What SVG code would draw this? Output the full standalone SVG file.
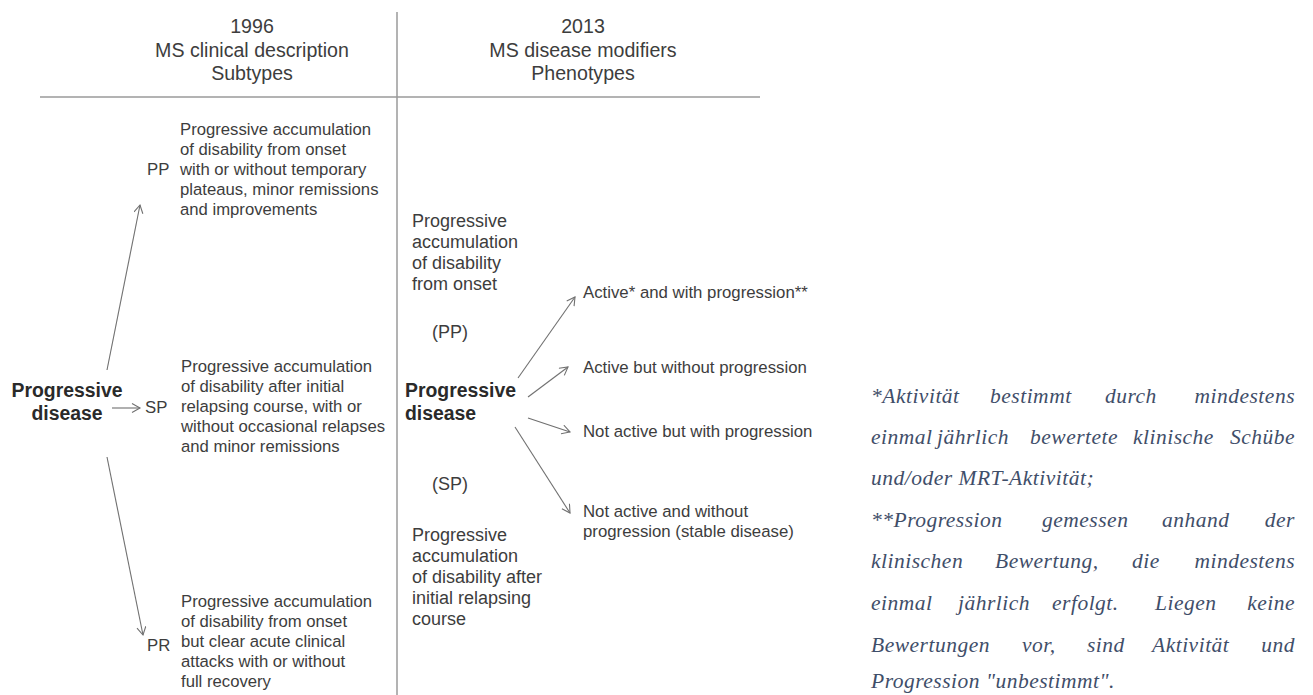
<svg xmlns="http://www.w3.org/2000/svg" width="1313" height="695" viewBox="0 0 1313 695">
<defs>
<style>
text{font-family:"Liberation Sans",Arial,Helvetica,sans-serif;fill:#3d3d3d}
.hd{font-size:19.6px;text-anchor:middle}
.bd{font-size:16.7px}
.rb{font-size:18px}
.lb{font-size:16.8px}
.ab{font-size:16.8px}
.bold{font-size:19.4px;font-weight:bold;fill:#2a2a2a}
.fn{font-family:"Liberation Serif","Times New Roman",serif;font-style:italic;font-size:21.5px;letter-spacing:0.5px;fill:#3f4e69}
.rule{stroke:#9a9a9a;stroke-width:1.5;fill:none}
.con{stroke:#707070;stroke-width:1.1;fill:none;marker-end:url(#ah)}
</style>
<marker id="ah" markerWidth="12" markerHeight="12" refX="9" refY="5" orient="auto" markerUnits="userSpaceOnUse">
<path d="M1,0.5 L9,5 L1,9.5" fill="none" stroke="#707070" stroke-width="1.1"/>
</marker>
</defs>
<rect width="1313" height="695" fill="#ffffff"/>

<g id="grid">
<line class="rule" x1="397" y1="12" x2="397" y2="695"/>
<line class="rule" x1="40" y1="97" x2="760" y2="97"/>
</g>

<g id="header-1996">
<text class="hd" x="252" y="33">1996</text>
<text class="hd" x="252" y="57">MS clinical description</text>
<text class="hd" x="252" y="80">Subtypes</text>
</g>
<g id="header-2013">
<text class="hd" x="583" y="33">2013</text>
<text class="hd" x="583" y="57">MS disease modifiers</text>
<text class="hd" x="583" y="80">Phenotypes</text>
</g>

<g id="left-progressive">
<text class="bold" x="67" y="397" text-anchor="middle">Progressive</text>
<text class="bold" x="67" y="420" text-anchor="middle">disease</text>
</g>

<g id="pp">
<text class="lb" x="147" y="175">PP</text>
<text class="bd" x="180" y="135">Progressive accumulation</text>
<text class="bd" x="180" y="155">of disability from onset</text>
<text class="bd" x="180" y="175">with or without temporary</text>
<text class="bd" x="180" y="195">plateaus, minor remissions</text>
<text class="bd" x="180" y="215">and improvements</text>
</g>

<g id="sp">
<text class="lb" x="145" y="413">SP</text>
<text class="bd" x="181" y="372">Progressive accumulation</text>
<text class="bd" x="181" y="392">of disability after initial</text>
<text class="bd" x="181" y="412">relapsing course, with or</text>
<text class="bd" x="181" y="432">without occasional relapses</text>
<text class="bd" x="181" y="452">and minor remissions</text>
</g>

<g id="pr">
<text class="lb" x="147" y="651">PR</text>
<text class="bd" x="181" y="607">Progressive accumulation</text>
<text class="bd" x="181" y="627">of disability from onset</text>
<text class="bd" x="181" y="647">but clear acute clinical</text>
<text class="bd" x="181" y="667">attacks with or without</text>
<text class="bd" x="181" y="687">full recovery</text>
</g>

<g id="right-pp">
<text class="rb" x="412" y="227">Progressive</text>
<text class="rb" x="412" y="248">accumulation</text>
<text class="rb" x="412" y="269">of disability</text>
<text class="rb" x="412" y="290">from onset</text>
<text class="rb" x="432" y="338">(PP)</text>
</g>

<g id="right-progressive">
<text class="bold" x="405" y="397">Progressive</text>
<text class="bold" x="405" y="420">disease</text>
</g>

<g id="right-sp">
<text class="rb" x="432" y="490">(SP)</text>
<text class="rb" x="412" y="541">Progressive</text>
<text class="rb" x="412" y="562">accumulation</text>
<text class="rb" x="412" y="583">of disability after</text>
<text class="rb" x="412" y="604">initial relapsing</text>
<text class="rb" x="412" y="625">course</text>
</g>

<g id="phenotype-1"><text class="ab" x="583" y="298">Active* and with progression**</text></g>
<g id="phenotype-2"><text class="ab" x="583" y="373">Active but without progression</text></g>
<g id="phenotype-3"><text class="ab" x="583" y="437">Not active but with progression</text></g>
<g id="phenotype-4">
<text class="ab" x="583" y="517">Not active and without</text>
<text class="ab" x="583" y="537">progression (stable disease)</text>
</g>

<g id="connectors">
<line class="con" x1="107" y1="370" x2="140" y2="205"/>
<line class="con" x1="112" y1="408" x2="140" y2="408"/>
<line class="con" x1="107" y1="457" x2="143" y2="635"/>
<line class="con" x1="518" y1="378" x2="575" y2="297"/>
<line class="con" x1="528" y1="397" x2="568" y2="367"/>
<line class="con" x1="528" y1="418" x2="570" y2="432"/>
<line class="con" x1="515" y1="427" x2="570" y2="513"/>
</g>

<g id="footnote">
<text class="fn" x="871" y="403">*Aktivität</text>
<text class="fn" x="990" y="403">bestimmt</text>
<text class="fn" x="1105" y="403">durch</text>
<text class="fn" x="1295" y="403" text-anchor="end">mindestens</text>
<text class="fn" x="871" y="444">einmal</text>
<text class="fn" x="937" y="444">jährlich</text>
<text class="fn" x="1030" y="444">bewertete</text>
<text class="fn" x="1133" y="444">klinische</text>
<text class="fn" x="1295" y="444" text-anchor="end">Schübe</text>
<text class="fn" x="871" y="485">und/oder MRT-Aktivität;</text>
<text class="fn" x="871" y="527">**Progression</text>
<text class="fn" x="1042" y="527">gemessen</text>
<text class="fn" x="1162" y="527">anhand</text>
<text class="fn" x="1295" y="527" text-anchor="end">der</text>
<text class="fn" x="871" y="568">klinischen</text>
<text class="fn" x="995" y="568">Bewertung,</text>
<text class="fn" x="1132" y="568">die</text>
<text class="fn" x="1295" y="568" text-anchor="end">mindestens</text>
<text class="fn" x="871" y="610">einmal</text>
<text class="fn" x="958" y="610">jährlich</text>
<text class="fn" x="1052" y="610">erfolgt.</text>
<text class="fn" x="1155" y="610">Liegen</text>
<text class="fn" x="1295" y="610" text-anchor="end">keine</text>
<text class="fn" x="871" y="652">Bewertungen</text>
<text class="fn" x="1022" y="652">vor,</text>
<text class="fn" x="1087" y="652">sind</text>
<text class="fn" x="1152" y="652">Aktivität</text>
<text class="fn" x="1295" y="652" text-anchor="end">und</text>
<text class="fn" x="871" y="688">Progression "unbestimmt".</text>
</g>
</svg>
